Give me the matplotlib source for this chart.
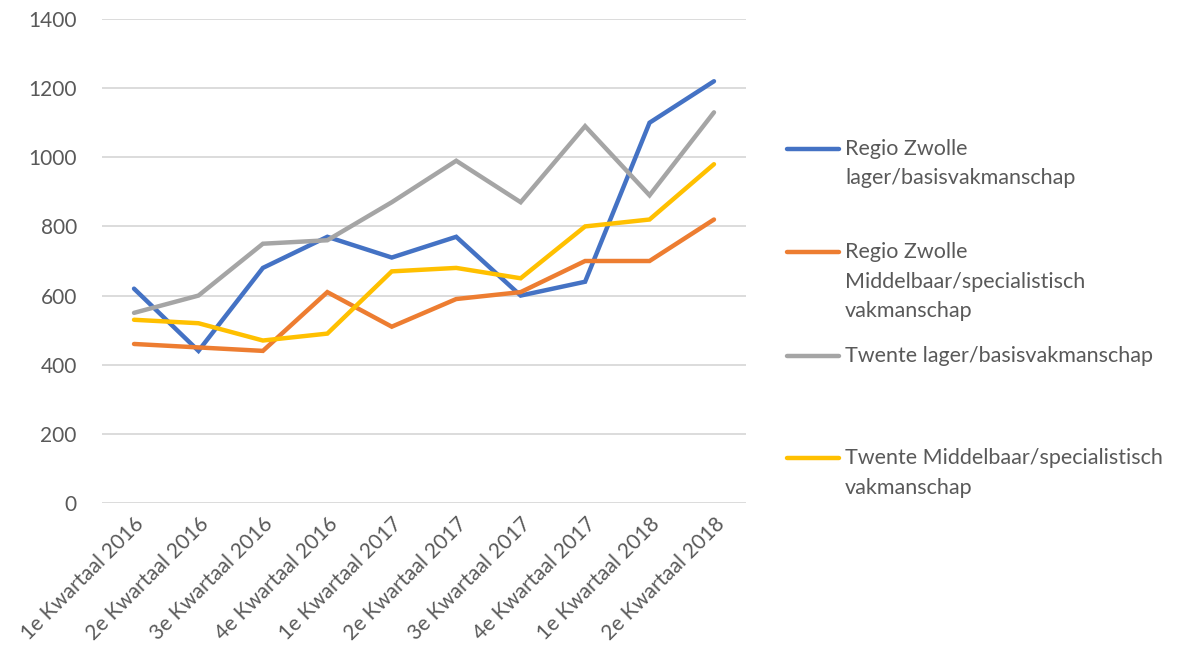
import matplotlib.pyplot as plt
from matplotlib.lines import Line2D

plt.rcParams['font.family'] = ['Lato', 'DejaVu Sans']

quarters = ["1e Kwartaal 2016", "2e Kwartaal 2016", "3e Kwartaal 2016", "4e Kwartaal 2016",
            "1e Kwartaal 2017", "2e Kwartaal 2017", "3e Kwartaal 2017", "4e Kwartaal 2017",
            "1e Kwartaal 2018", "2e Kwartaal 2018"]

zwolle_lager = [620, 440, 680, 770, 710, 770, 600, 640, 1100, 1220]
zwolle_midden = [460, 450, 440, 610, 510, 590, 610, 700, 700, 820]
twente_lager = [550, 600, 750, 760, 870, 990, 870, 1090, 890, 1130]
twente_midden = [530, 520, 470, 490, 670, 680, 650, 800, 820, 980]

series = [
    (zwolle_lager, "#4472C4", ["Regio Zwolle", "lager/basisvakmanschap"]),
    (zwolle_midden, "#ED7D31", ["Regio Zwolle", "Middelbaar/specialistisch", "vakmanschap"]),
    (twente_lager, "#A5A5A5", ["Twente lager/basisvakmanschap"]),
    (twente_midden, "#FFC000", ["Twente Middelbaar/specialistisch", "vakmanschap"]),
]

W, H = 1180, 656
fig = plt.figure(figsize=(W / 100, H / 100), dpi=100)
ax = fig.add_axes([101.8 / W, 1 - 503 / H, (746.2 - 101.8) / W, (503 - 19) / H])

txt = "#595959"
x = list(range(len(quarters)))
for vals, col, lab in series:
    ax.plot(x, vals, color=col, lw=3.2, solid_capstyle="round", solid_joinstyle="miter", zorder=3)

ax.set_xlim(-0.5, 9.5)
ax.set_ylim(0, 1400)
ax.set_yticks(range(0, 1401, 200))
ax.set_xticks(x)
ax.set_xticklabels(quarters, rotation=45, ha="right", rotation_mode="anchor")
ax.tick_params(axis="both", length=0, labelsize=15, labelcolor=txt)
ax.tick_params(axis="y", pad=18)
ax.tick_params(axis="x", pad=8)
ax.grid(axis="y", color="#d9d9d9", lw=1.3)
ax.set_axisbelow(True)
for s in ax.spines.values():
    s.set_visible(False)

# legend drawn by hand to keep Excel-like spacing
legend_y = [149, 252, 356, 458]
for (vals, col, lab), yy in zip(series, legend_y):
    fy = 1 - yy / H
    fig.add_artist(Line2D([787 / W, 839 / W], [fy, fy], color=col, lw=3.2,
                          solid_capstyle="round", transform=fig.transFigure))
    for i, line in enumerate(lab):
        fig.text(845 / W, 1 - (yy + i * 29.5) / H, line, fontsize=15.5, color=txt,
                 ha="left", va="center")

fig.savefig("out.png", dpi=100)
